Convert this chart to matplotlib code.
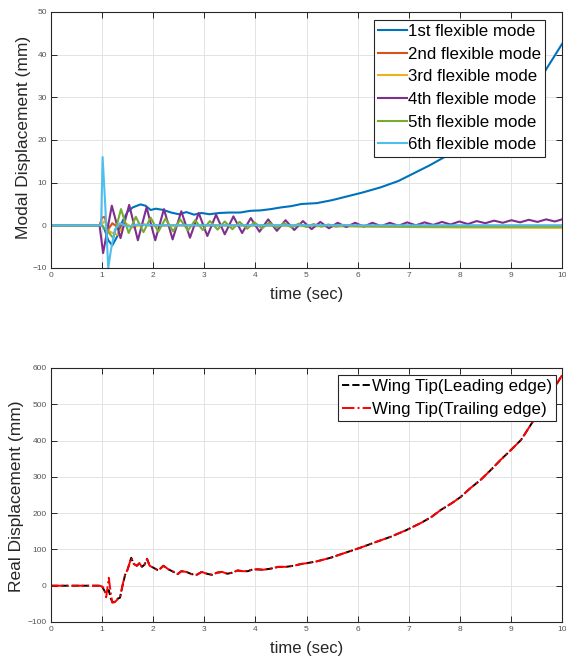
import matplotlib
matplotlib.use("Agg")
import matplotlib.pyplot as plt

plt.rcParams['font.family'] = ['Liberation Sans', 'DejaVu Sans']

# ---------------- top chart data (modal displacement, mm) ----------------
mode_labels = ['1st flexible mode', '2nd flexible mode', '3rd flexible mode',
               '4th flexible mode', '5th flexible mode', '6th flexible mode']
mode_colors = ['#0072BD', '#D95319', '#EDB120', '#7E2F8E', '#77AC30', '#4DBEEE']

t_m1 = [0, 0.95, 1.0, 1.05, 1.12, 1.2, 1.3, 1.4, 1.5, 1.6, 1.75, 1.85, 1.95, 2.05, 2.2,
        2.35, 2.5, 2.65, 2.8, 2.95, 3.1, 3.3, 3.5, 3.7, 3.9, 4.1, 4.3, 4.5, 4.7, 4.9,
        5.2, 5.5, 5.8, 6.1, 6.45, 6.8, 7.1, 7.4, 7.76, 8.0, 8.5, 9.0, 9.3, 9.65, 10.0]
y_m1 = [0, 0, 0, -1.0, -3.5, -4.7, -2.5, 1.0, 3.2, 4.2, 4.9, 4.6, 3.6, 3.9, 3.6,
        3.0, 2.6, 3.1, 2.5, 2.9, 2.6, 2.9, 3.0, 3.0, 3.4, 3.5, 3.8, 4.2, 4.5, 5.0,
        5.2, 5.9, 6.8, 7.7, 8.9, 10.4, 12.2, 14.0, 16.4, 18.3, 22.5, 27.5, 31.0, 35.8, 42.5]

t_m2 = [0, 0.95, 1.0, 1.05, 1.12, 1.2, 1.3, 1.4, 1.55, 1.7, 2.0, 4.0, 6.0, 8.0, 10.0]
y_m2 = [0, 0, 1.8, 2.0, -1.0, 0.5, -0.4, 0.2, -0.2, 0.1, 0.0, 0.0, -0.1, -0.1, -0.1]

t_m3 = [0, 0.97, 1.05, 1.15, 1.3, 1.45, 1.6, 1.8, 2.0, 2.5, 4.0, 6.0, 8.0, 10.0]
y_m3 = [0, 0, 1.0, -1.5, -2.2, 0.5, -0.5, 0.3, -0.2, 0.0, -0.1, -0.3, -0.5, -0.6]

t_m4 = [0, 0.95, 1.02, 1.19, 1.36, 1.53, 1.70, 1.87, 2.04, 2.21, 2.38, 2.55, 2.72, 2.89,
        3.06, 3.23, 3.40, 3.57, 3.74, 3.91, 4.08, 4.25, 4.42, 4.59, 4.76, 4.93, 5.10,
        5.27, 5.44, 5.61, 5.78, 5.95, 6.12, 6.29, 6.46, 6.63, 6.80, 6.97, 7.14, 7.31,
        7.48, 7.65, 7.82, 7.99, 8.16, 8.33, 8.50, 8.67, 8.84, 9.01, 9.18, 9.35, 9.52,
        9.69, 9.86, 10.0]
y_m4 = [0, 0, -6.5, 4.6, -3.0, 4.8, -3.5, 4.2, -3.5, 3.8, -3.3, 3.3, -2.9, 2.9,
        -2.5, 2.5, -2.1, 2.1, -1.8, 1.7, -1.5, 1.4, -1.3, 1.2, -1.1, 1.0, -0.9,
        0.8, -0.7, 0.6, -0.4, 0.6, -0.3, 0.6, -0.2, 0.6, -0.1, 0.7, 0.0, 0.7,
        0.1, 0.8, 0.2, 0.9, 0.3, 1.0, 0.5, 1.1, 0.6, 1.2, 0.7, 1.3, 0.8,
        1.4, 0.9, 1.4]

t_m5 = [0, 0.98, 1.08, 1.22, 1.37, 1.52, 1.66, 1.81, 1.95, 2.10, 2.24, 2.39, 2.53, 2.68,
        2.82, 2.97, 3.11, 3.26, 3.40, 3.55, 3.69, 3.84, 3.98, 4.13, 4.27, 4.42, 4.56,
        4.71, 4.85, 5.00, 5.14, 5.29, 5.43, 5.58, 5.72, 6.0, 7.0, 8.0, 9.0, 10.0]
y_m5 = [0, 0, -1.0, -3.0, 3.8, -1.8, 2.0, -1.6, 1.8, -1.5, 1.6, -1.4, 1.4, -1.2,
        1.2, -1.1, 1.0, -1.0, 0.9, -0.9, 0.8, -0.8, 0.7, -0.7, 0.6, -0.6, 0.5,
        -0.5, 0.4, -0.4, 0.3, -0.3, 0.2, -0.3, 0.1, -0.2, -0.3, -0.3, -0.3, -0.3]

t_m6 = [0, 0.98, 1.01, 1.06, 1.12, 1.17, 1.25, 1.35, 1.5, 1.7, 2.0, 4.0, 6.0, 8.0, 10.0]
y_m6 = [0, 0, 16.0, 5.0, -10.0, -6.0, -1.0, 0.5, -0.3, 0.2, 0.0, 0.0, 0.0, 0.0, 0.0]

mode_t = [t_m1, t_m2, t_m3, t_m4, t_m5, t_m6]
mode_y = [y_m1, y_m2, y_m3, y_m4, y_m5, y_m6]

# ---------------- bottom chart data (real displacement, mm) ----------------
tip_labels = ['Wing Tip(Leading edge)', 'Wing Tip(Trailing edge)']
t_tip = [0, 0.95, 1.0, 1.05, 1.08, 1.13, 1.17, 1.2, 1.25, 1.3, 1.35, 1.4, 1.45, 1.5,
         1.57, 1.62, 1.68, 1.73, 1.78, 1.83, 1.88, 1.93, 2.0, 2.1, 2.2, 2.3, 2.4,
         2.48, 2.55, 2.65, 2.75, 2.85, 2.95, 3.05, 3.15, 3.25, 3.35, 3.45, 3.55,
         3.65, 3.75, 3.85, 3.95, 4.05, 4.15, 4.3, 4.45, 4.6, 4.75, 4.9, 5.0, 5.2,
         5.47, 5.7, 6.06, 6.35, 6.65, 6.95, 7.24, 7.45, 7.63, 7.85, 8.02, 8.2,
         8.41, 8.6, 8.8, 9.0, 9.2, 9.45, 9.7, 9.85, 10.0]
y_lead = [0, 0, -2, -15, -22, -12, -35, -45, -44, -36, -33, 0, 30, 45,
          77, 60, 55, 62, 52, 58, 74, 55, 50, 42, 55, 45, 38,
          32, 40, 38, 32, 30, 38, 33, 30, 36, 38, 33, 36,
          42, 40, 40, 45, 45, 44, 47, 52, 52, 55, 60, 62, 67,
          77, 88, 105, 120, 135, 153, 173, 190, 209, 228, 245, 268,
          292, 318, 347, 374, 402, 457, 510, 545, 580]
y_trail = [0, 0, -2, -10, -32, 22, -20, -47, -45, -38, -33, 2, 30, 45,
           77, 60, 55, 62, 52, 58, 74, 55, 50, 42, 55, 45, 38,
           32, 40, 38, 32, 30, 38, 33, 30, 36, 38, 33, 36,
           42, 40, 40, 45, 45, 44, 47, 52, 52, 55, 60, 62, 67,
           77, 88, 105, 120, 135, 153, 173, 190, 209, 228, 245, 268,
           292, 318, 347, 374, 402, 457, 510, 545, 580]

x_ticks = [0, 1, 2, 3, 4, 5, 6, 7, 8, 9, 10]
top_yticks = [-10, 0, 10, 20, 30, 40, 50]
bot_yticks = [-100, 0, 100, 200, 300, 400, 500, 600]

W, H = 566, 659
fig = plt.figure(figsize=(W / 100, H / 100), dpi=100)
ax1 = fig.add_axes([51 / W, 1 - 268 / H, 511 / W, 256 / H])
ax2 = fig.add_axes([51 / W, 1 - 622 / H, 511 / W, 254 / H])


def style(ax, yticks):
    ax.set_xlim(0, 10)
    ax.set_ylim(yticks[0], yticks[-1])
    ax.set_xticks(x_ticks)
    ax.set_yticks(yticks)
    ax.grid(True, color='#e3e3e3', linewidth=0.7)
    ax.set_axisbelow(True)
    ax.tick_params(direction='in', top=True, right=True, length=4, width=0.7,
                   labelsize=6, labelcolor='#555555', color='#262626', pad=3)
    for s in ax.spines.values():
        s.set_color('#262626')
        s.set_linewidth(0.8)
    ax.set_xlabel('time (sec)', fontsize=12, color='#262626', labelpad=6)


def legend(ax, anchor):
    leg = ax.legend(loc='upper right', bbox_to_anchor=anchor, fontsize=12.2,
                    frameon=True, fancybox=False, edgecolor='#262626', framealpha=1,
                    handlelength=1.7, handletextpad=0.05, labelspacing=0.45,
                    borderpad=0.25, borderaxespad=0)
    leg.get_frame().set_linewidth(0.8)
    return leg


for t, y, c, lab in zip(mode_t, mode_y, mode_colors, mode_labels):
    ax1.plot(t, y, color=c, linewidth=1.5, label=lab)
style(ax1, top_yticks)
ax1.set_ylabel('Modal Displacement (mm)', fontsize=12.5, color='#262626',
               va='center', ha='center')
ax1.yaxis.set_label_coords(-0.053, 0.51)
legend(ax1, (0.967, 0.969))

ax2.plot(t_tip, y_lead, color='black', linestyle='--', linewidth=1.4, label=tip_labels[0])
ax2.plot(t_tip, y_trail, color='red', linestyle='-.', linewidth=1.4, label=tip_labels[1])
style(ax2, bot_yticks)
ax2.set_ylabel('Real Displacement (mm)', fontsize=12.5, color='#262626',
               va='center', ha='center')
ax2.yaxis.set_label_coords(-0.0675, 0.496)
legend(ax2, (0.988, 0.972))

fig.savefig('out.png', dpi=100)
